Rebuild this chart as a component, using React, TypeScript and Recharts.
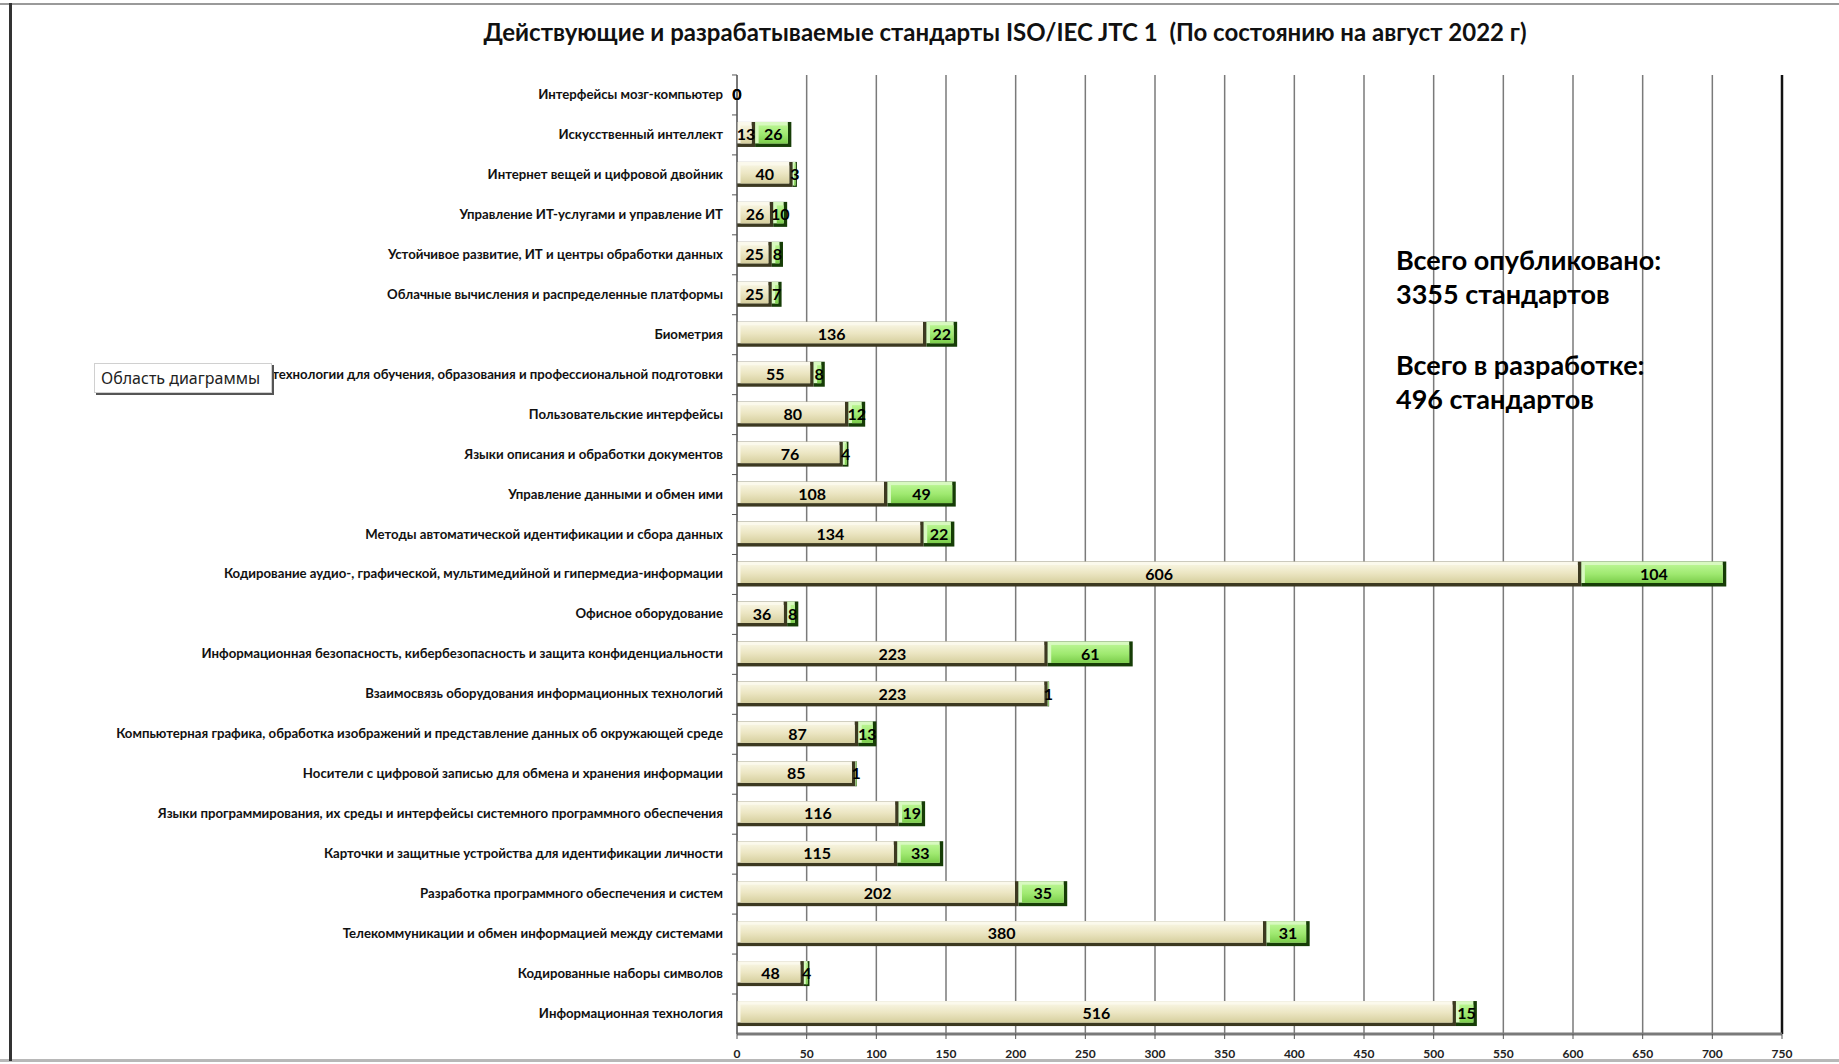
import { Bar, BarChart, CartesianGrid, LabelList, ReferenceLine, XAxis, YAxis } from "recharts";

// category shown partly hidden behind the "Область диаграммы" box in the source
const categories = [
  "Интерфейсы мозг-компьютер",
  "Искусственный интеллект",
  "Интернет вещей и цифровой двойник",
  "Управление ИТ-услугами и управление ИТ",
  "Устойчивое развитие, ИТ и центры обработки данных",
  "Облачные вычисления и распределенные платформы",
  "Биометрия",
  "технологии для обучения, образования и профессиональной подготовки",
  "Пользовательские интерфейсы",
  "Языки описания и обработки документов",
  "Управление данными и обмен ими",
  "Методы автоматической идентификации и сбора данных",
  "Кодирование аудио-, графической, мультимедийной и гипермедиа-информации",
  "Офисное оборудование",
  "Информационная безопасность, кибербезопасность и защита конфиденциальности",
  "Взаимосвязь оборудования информационных технологий",
  "Компьютерная графика, обработка изображений и представление данных об окружающей среде",
  "Носители с цифровой записью для обмена и хранения информации",
  "Языки программирования, их среды и интерфейсы системного программного обеспечения",
  "Карточки и защитные устройства для идентификации личности",
  "Разработка программного обеспечения и систем",
  "Телекоммуникации и обмен информацией между системами",
  "Кодированные наборы символов",
  "Информационная технология",
];

const published = [0, 13, 40, 26, 25, 25, 136, 55, 80, 76, 108, 134, 606, 36, 223, 223, 87, 85, 116, 115, 202, 380, 48, 516];
const inDevelopment = [0, 26, 3, 10, 8, 7, 22, 8, 12, 4, 49, 22, 104, 8, 61, 1, 13, 1, 19, 33, 35, 31, 4, 15];
const xTicks = [0, 50, 100, 150, 200, 250, 300, 350, 400, 450, 500, 550, 600, 650, 700, 750];

const data = categories.map((name, i) => ({
  name,
  published: published[i],
  dev: inDevelopment[i],
}));

const FONT = "Lato, 'Open Sans', sans-serif";

const bevel = (dark: string, light: string, face: string) => (props: any) => {
  const { x, y, width, height } = props;
  if (!width || width <= 0) return <g />;
  const e = Math.min(3.5, width / 3);
  return (
    <g>
      <rect x={x} y={y} width={width} height={height} fill={dark} />
      <rect x={x} y={y} width={Math.max(width - e, 0)} height={height - e} fill={light} />
      <rect
        x={x + e}
        y={y + e}
        width={Math.max(width - 2 * e, 0)}
        height={Math.max(height - 2 * e, 0)}
        fill={`url(#${face})`}
      />
    </g>
  );
};

const BeigeBar = bevel("#3c3920", "#fbf9ec", "beige");
const GreenBar = bevel("#163d06", "#d8f9c0", "green");

const CategoryTick = (props: any) => {
  const { x, y, payload } = props;
  return (
    <g>
      <text x={x} y={y} dy={4} textAnchor="end" fontSize={13.2} fontWeight={700} fill="#111" fontFamily={FONT}>
        {payload.value}
      </text>
      <line x1={x + 9} x2={x + 14} y1={y - 20} y2={y - 20} stroke="#555" />
    </g>
  );
};

export default function App() {
  return (
    <div
      style={{
        position: "absolute",
        left: 0,
        top: 0,
        width: 1839,
        height: 1064,
        background: "#fff",
        fontFamily: FONT,
        overflow: "hidden",
      }}
    >
      <div style={{ position: "absolute", left: 0, right: 0, top: 3, height: 2, background: "#9a9a9a" }} />
      <div style={{ position: "absolute", left: 0, right: 0, top: 1059, height: 3, background: "#b8b8b8" }} />
      <div style={{ position: "absolute", left: 9, top: 3, width: 3, height: 1058, background: "#333" }} />
      <BarChart
        width={1839}
        height={1064}
        data={data}
        layout="vertical"
        margin={{ top: 75, right: 57, bottom: 0, left: 0 }}
      >
        <defs>
          <linearGradient id="beige" x1="0" y1="0" x2="0" y2="1">
            <stop offset="0%" stopColor="#f6f3de" />
            <stop offset="45%" stopColor="#ece6c3" />
            <stop offset="100%" stopColor="#d6cf9e" />
          </linearGradient>
          <linearGradient id="green" x1="0" y1="0" x2="0" y2="1">
            <stop offset="0%" stopColor="#b8f490" />
            <stop offset="50%" stopColor="#9fe970" />
            <stop offset="100%" stopColor="#7bcd4b" />
          </linearGradient>
        </defs>
        <CartesianGrid horizontal={false} stroke="#7a7a7a" strokeWidth={1.5} />
        <XAxis
          type="number"
          domain={[0, 750]}
          ticks={xTicks}
          height={30}
          axisLine={{ stroke: "#7a7a7a", strokeWidth: 3 }}
          tickLine={{ stroke: "#555" }}
          tickSize={5}
          tickMargin={10}
          tick={{ fontSize: 12, fontWeight: 700, fill: "#222", fontFamily: FONT }}
          interval={0}
        />
        <YAxis
          type="category"
          dataKey="name"
          width={737}
          interval={0}
          tickSize={0}
          tickMargin={14}
          tickLine={false}
          axisLine={{ stroke: "#555" }}
          tick={<CategoryTick />}
        />
        <ReferenceLine x={750} stroke="#111" strokeWidth={2.5} />
        <Bar dataKey="published" stackId="a" barSize={25} shape={BeigeBar} isAnimationActive={false}>
          <LabelList dataKey="published" position="center" fill="#000" fontSize={16} fontWeight={700} fontFamily={FONT} />
        </Bar>
        <Bar dataKey="dev" stackId="a" barSize={25} shape={GreenBar} isAnimationActive={false}>
          <LabelList dataKey="dev" position="center" fill="#000" fontSize={16} fontWeight={700} fontFamily={FONT} />
        </Bar>
      </BarChart>
      <div
        style={{
          position: "absolute",
          left: 0,
          width: 2010,
          top: 17,
          textAlign: "center",
          fontSize: 24,
          fontWeight: 700,
          color: "#111",
        }}
      >
        Действующие и разрабатываемые стандарты ISO/IEC JTC 1&nbsp; (По состоянию на август 2022 г)
      </div>
      <div
        style={{
          position: "absolute",
          left: 1396,
          top: 243,
          fontSize: 27,
          fontWeight: 700,
          lineHeight: "34px",
          color: "#000",
        }}
      >
        <div>Всего опубликовано:</div>
        <div>3355 стандартов</div>
        <div style={{ height: 37 }} />
        <div>Всего в разработке:</div>
        <div>496 стандартов</div>
      </div>
      <div
        style={{
          position: "absolute",
          left: 94,
          top: 363,
          width: 170,
          height: 28,
          background: "#fff",
          border: "1px solid #d0d0d0",
          boxShadow: "2px 2px 0 #555",
          fontSize: 16,
          lineHeight: "28px",
          paddingLeft: 6,
          color: "#222",
          fontFamily: "'Noto Sans', sans-serif",
        }}
      >
        Область диаграммы
      </div>
    </div>
  );
}
